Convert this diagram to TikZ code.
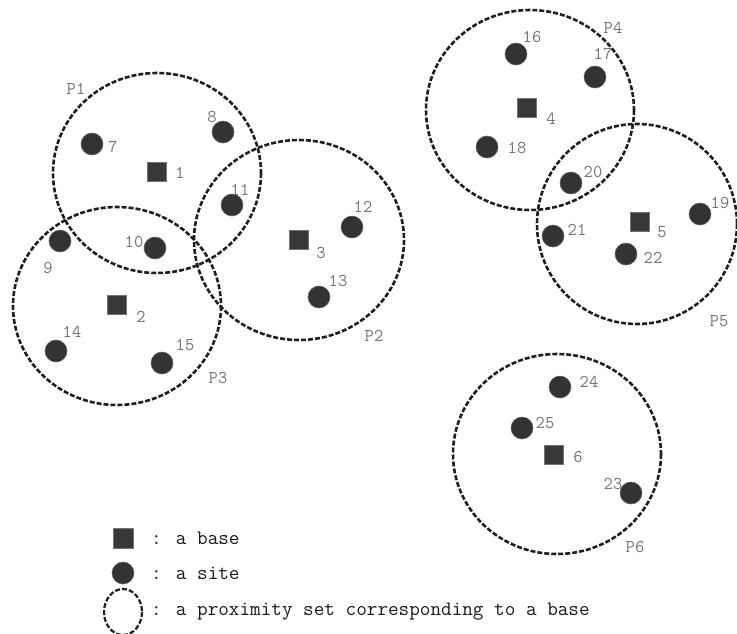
\documentclass[tikz,border=0pt]{standalone}
\usepackage{fontspec}
\begin{document}
\begin{tikzpicture}[x=1pt,y=-1pt,
  prox/.style={draw=black!88, line width=2.6pt, dash pattern=on 5pt off 2pt},
  base/.style={rectangle, fill=black!78, draw=black!55, line width=0.6pt, minimum size=19pt, inner sep=0pt},
  site/.style={circle, fill=black!80, draw=black!60, line width=0.6pt, minimum size=22pt, inner sep=0pt},
  lab/.style={font=\ttfamily\fontsize{18}{18}\selectfont, text=black!55, inner sep=0pt},
  leg/.style={font=\ttfamily\fontsize{20.6}{20.6}\selectfont, text=black!90, inner sep=0pt, anchor=west}]
\useasboundingbox (0,0) rectangle (737,633);
% proximity sets
\draw[prox] (157,173) ellipse [x radius=104, y radius=100];
\draw[prox] (299,240) ellipse [x radius=105, y radius=100];
\draw[prox] (117,306) ellipse [x radius=104, y radius=99];
\draw[prox] (530,110) ellipse [x radius=104, y radius=100];
\draw[prox] (637,224) ellipse [x radius=100, y radius=100];
\draw[prox] (557,454) ellipse [x radius=104, y radius=100];
% bases
\node[base] (b1) at (157,172) {};
\node[base] (b2) at (117,305) {};
\node[base] (b3) at (299,240) {};
\node[base] (b4) at (527,108) {};
\node[base] (b5) at (640,222) {};
\node[base] (b6) at (554,455) {};
% sites
\node[site] (s7) at (92,144) {};
\node[site] (s8) at (223,132) {};
\node[site] (s9) at (60,241) {};
\node[site] (s10) at (155,248) {};
\node[site] (s11) at (232,205) {};
\node[site] (s12) at (352,227) {};
\node[site] (s13) at (319,297) {};
\node[site] (s14) at (56,351) {};
\node[site] (s15) at (162,363) {};
\node[site] (s16) at (516,54) {};
\node[site] (s17) at (595,77) {};
\node[site] (s18) at (487,147) {};
\node[site] (s19) at (700,214) {};
\node[site] (s20) at (571,183) {};
\node[site] (s21) at (553,236) {};
\node[site] (s22) at (626,254) {};
\node[site] (s23) at (631,493) {};
\node[site] (s24) at (560,387) {};
\node[site] (s25) at (522,428) {};
% labels
\node[lab] (l1) at (180,173) {1};
\node[lab] (l2) at (141,317) {2};
\node[lab] (l3) at (321,253) {3};
\node[lab] (l4) at (551,119) {4};
\node[lab] (l5) at (662,232) {5};
\node[lab] (l6) at (578,457) {6};
\node[lab] (l7) at (113,147) {7};
\node[lab] (l8) at (212,117) {8};
\node[lab] (l9) at (48,268) {9};
\node[lab] (l10) at (134,242) {10};
\node[lab] (l11) at (240,190) {11};
\node[lab] (l12) at (363,207) {12};
\node[lab] (l13) at (338,281) {13};
\node[lab] (l14) at (72,332) {14};
\node[lab] (l15) at (185,345) {15};
\node[lab] (l16) at (532,37) {16};
\node[lab] (l17) at (603,54) {17};
\node[lab] (l18) at (517,148) {18};
\node[lab] (l19) at (720,203) {19};
\node[lab] (l20) at (593,172) {20};
\node[lab] (l21) at (577,230) {21};
\node[lab] (l22) at (653,258) {22};
\node[lab] (l23) at (613,484) {23};
\node[lab] (l24) at (589,382) {24};
\node[lab] (l25) at (545,423) {25};
\node[lab] (p1) at (76,89) {P1};
\node[lab] (p2) at (374,336) {P2};
\node[lab] (p3) at (218,378) {P3};
\node[lab] (p4) at (613,28) {P4};
\node[lab] (p5) at (719,321) {P5};
\node[lab] (p6) at (635,547) {P6};
% legend
\node[base, minimum size=20pt] (kb) at (123,538) {};
\node[site] (ks) at (123,573) {};
\draw[prox, line width=2.2pt] (123,612) ellipse [x radius=19, y radius=23];
\node[leg] (tb) at (151,538) {: a base};
\node[leg] (ts) at (151,573) {: a site};
\node[leg] (tp) at (151,612) {: a proximity set corresponding to a base};
\end{tikzpicture}
\end{document}
